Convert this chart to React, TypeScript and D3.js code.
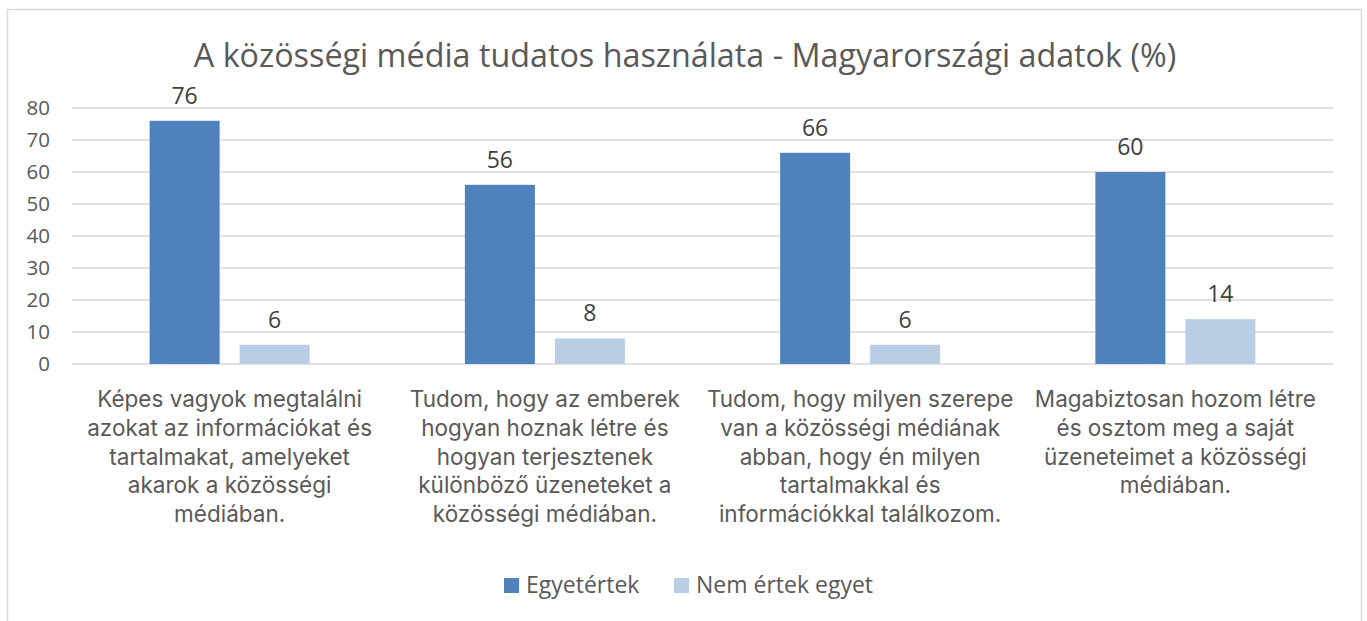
import React from "react";
import * as d3 from "d3";

const title = "A közösségi média tudatos használata - Magyarországi adatok (%)";
const categories = [
  ["Képes vagyok megtalálni", "azokat az információkat és", "tartalmakat, amelyeket", "akarok a közösségi", "médiában."],
  ["Tudom, hogy az emberek", "hogyan hoznak létre és", "hogyan terjesztenek", "különböző üzeneteket a", "közösségi médiában."],
  ["Tudom, hogy milyen szerepe", "van a közösségi médiának", "abban, hogy én milyen", "tartalmakkal és", "információkkal találkozom."],
  ["Magabiztosan hozom létre", "és osztom meg a saját", "üzeneteimet a közösségi", "médiában."],
];
const seriesNames = ["Egyetértek", "Nem értek egyet"];
const egyetertek = [76, 56, 66, 60];
const nemErtekEgyet = [6, 8, 6, 14];
const yTicks = [0, 10, 20, 30, 40, 50, 60, 70, 80];
const colors = ["#4F81BD", "#B9CDE5"];

const W = 1367;
const H = 621;
const FONT = "'Open Sans', 'Segoe UI', sans-serif";
const LABEL_FONT = "Inter, 'Open Sans', sans-serif";

export default function App() {
  const left = 72, right = 1333, top = 108, bottom = 364;
  const x0 = d3.scaleBand<number>().domain(d3.range(categories.length)).range([left, right]).paddingInner(0).paddingOuter(0);
  const y = d3.scaleLinear().domain([0, 80]).range([bottom, top]);
  const barW = 70, gap = 20;
  const series = [egyetertek, nemErtekEgyet];

  return (
    <div style={{ position: "absolute", left: 0, top: 0 }}>
      <svg width={W} height={H} style={{ display: "block", background: "#fff" }} fontFamily={FONT}>
        <rect x={7.5} y={9.5} width={1354} height={630} fill="#fff" stroke="#D9D9D9" strokeWidth={1.5} />
        <text x={685} y={67} textAnchor="middle" fontSize={32.3} fill="#595959">{title}</text>
        {yTicks.map((t) => (
          <g key={t}>
            <line x1={left} x2={right} y1={y(t)} y2={y(t)} stroke="#D9D9D9" strokeWidth={1.3} />
            <text x={50} y={y(t)} dy="0.36em" textAnchor="end" fontSize={20.5} fill="#595959">{t}</text>
          </g>
        ))}
        {categories.map((lines, i) => {
          const c = x0(i)! + x0.bandwidth() / 2;
          return (
            <g key={i}>
              {series.map((s, j) => {
                const bx = c - gap / 2 - barW + j * (barW + gap);
                return (
                  <g key={j}>
                    <rect x={bx} y={y(s[i])} width={barW} height={y(0) - y(s[i])} fill={colors[j]} />
                    <text x={bx + barW / 2} y={y(s[i]) - 17} textAnchor="middle" fontSize={23} fill="#404040">{s[i]}</text>
                  </g>
                );
              })}
              <text x={c} y={407} textAnchor="middle" fontSize={22.5} fontFamily={LABEL_FONT} fill="#595959">
                {lines.map((ln, k) => (
                  <tspan key={k} x={c} dy={k === 0 ? 0 : 28.8}>{ln}</tspan>
                ))}
              </text>
            </g>
          );
        })}
        {seriesNames.map((n, j) => {
          const lx = [504, 674][j];
          return (
            <g key={n}>
              <rect x={lx} y={578} width={15} height={15} fill={colors[j]} />
              <text x={lx + 22} y={593} fontSize={23} fill="#595959">{n}</text>
            </g>
          );
        })}
      </svg>
    </div>
  );
}
